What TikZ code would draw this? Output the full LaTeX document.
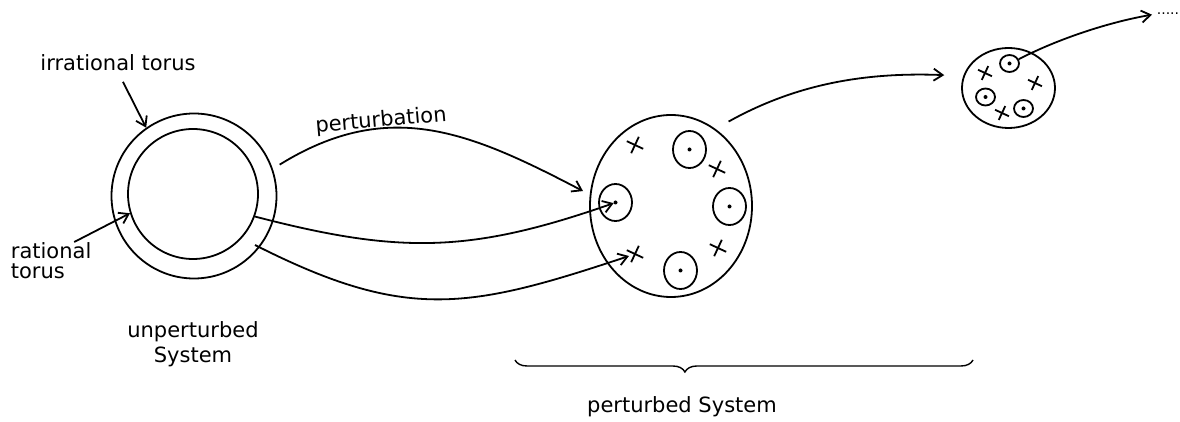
\documentclass[tikz,border=0pt]{standalone}
\usepackage{fontspec}
\setmainfont{DejaVu Sans}
\usetikzlibrary{
  arrows.meta,
  shapes.geometric,
  shapes.misc,
  decorations.pathreplacing,
}

\begin{document}
\begin{tikzpicture}[
    x=0.5pt, y=-0.5pt,
    line width=0.9pt,
    >={Straight Barb[length=4.5pt,width=6pt]},
    lbl/.style={font=\fontsize{10.5}{12.5}\selectfont, inner sep=0pt},
    torus/.style={circle, draw, inner sep=0pt},
    orbit/.style={ellipse, draw, inner sep=0pt, minimum width=16.5pt, minimum height=18.5pt,
      path picture={\fill (path picture bounding box.center) circle (1pt);}},
    smallorbit/.style={orbit, minimum width=9.5pt, minimum height=8.5pt},
    xmark/.style={cross out, draw, inner sep=0pt, minimum size=5.5pt, rotate=20},
  ]
  \useasboundingbox (0,0) rectangle (1180,422);

  % Unperturbed system
  \node[torus, minimum size=82.5pt] (irr) at (194,196) {};
  \node[torus, minimum size=65pt]   (rat) at (193,194) {};
  \node[lbl] (irrtxt) at (118,63) {irrational torus};
  \node[lbl, font=\fontsize{10.5}{10}\selectfont, align=left, anchor=north west] (rattxt) at (10,242) {rational\\torus};
  \node[lbl, align=center] (unp) at (193,344) {unperturbed\\System};
  \draw[->, shorten <=5.5pt] (irrtxt.south) -- (irr.125);
  \draw[->] ([xshift=-9pt]rattxt.north east) -- (rat.197);

  % Perturbed system
  \node[ellipse, draw, inner sep=0pt, minimum width=81pt, minimum height=91pt] (pert) at (671,206) {};
  \node[orbit] (p1) at (689.5,149.5) {};
  \node[orbit] (p2) at (615.5,202.5) {};
  \node[orbit] (p3) at (729.5,206.5) {};
  \node[orbit] (p4) at (680.5,270.5) {};
  \node[xmark] (x1) at (635,145) {};
  \node[xmark] (x2) at (717,169) {};
  \node[xmark] (x3) at (718,248) {};
  \node[xmark] (x4) at (635,254) {};

  % Next stage
  \node[ellipse, draw, inner sep=0pt, minimum width=46.5pt, minimum height=40pt] (sml) at (1008.5,88) {};
  \node[smallorbit] (q1) at (1009.5,63.5) {};
  \node[smallorbit] (q2) at (985.5,97) {};
  \node[smallorbit] (q3) at (1023.5,108.5) {};
  \node[xmark, minimum size=4.5pt] (x5) at (985,73) {};
  \node[xmark, minimum size=4.5pt] (x6) at (1035,83) {};
  \node[xmark, minimum size=4.5pt] (x7) at (1002,113) {};
  \node[inner sep=0pt, font=\fontsize{7}{8}\selectfont] (etc) at (1168,14) {.....};

  % Mapping arrows
  \coordinate (a3) at (255,245);
  \node[lbl, rotate=5] (pl) at (381,121) {perturbation};
  \draw[->, shorten <=4pt, shorten >=3.8pt] (irr.19) .. controls (389,97) and (470,132) .. (pert.172);
  \draw[->, shorten >=1pt] (rat.-20) .. controls (399,254) and (470,253.5) .. (p2.center);
  \draw[->] (a3) .. controls (406,321.5) and (468,309.6) .. (x4);
  \draw[->, shorten <=7.5pt, shorten >=9.5pt] (pert.60) .. controls (796,84) and (865,72) .. (sml.165);
  \draw[->, shorten >=2pt] (q1.25) .. controls (1060,38) and (1110,22) .. (etc.west);

  % Brace
  \draw[line width=0.7pt, decorate, decoration={brace, mirror, amplitude=6pt, aspect=0.371}] (515,360) -- (973,360);
  \node[lbl] (ps) at (682,407) {perturbed System};
\end{tikzpicture}
\end{document}
